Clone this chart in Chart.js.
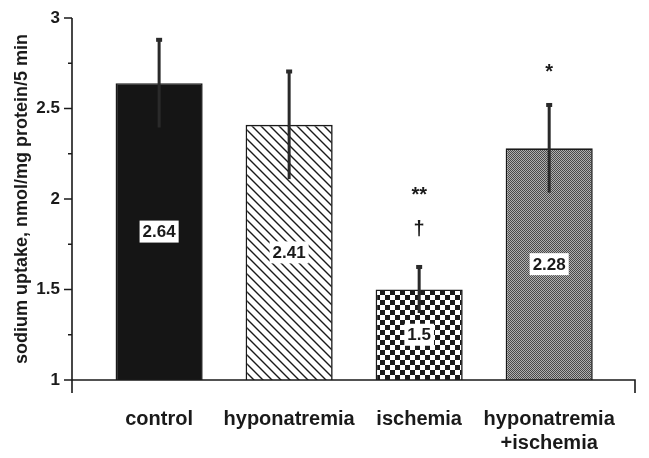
<!DOCTYPE html>
<html>
<head>
<meta charset="utf-8">
<script src="https://cdn.jsdelivr.net/npm/chart.js@4.4.0/dist/chart.umd.min.js"></script>
<style>
  body { margin: 0; background: #fff; }
  #wrap { width: 649px; height: 458px; }
</style>
</head>
<body>
<div id="wrap"><canvas id="chart" width="649" height="458"></canvas></div>
<script>
// values
const categories = ['control', 'hyponatremia', 'ischemia', ['hyponatremia', '+ischemia']];
const means = [2.64, 2.41, 1.5, 2.28];
const errors = [0.245, 0.30, 0.13, 0.245];
const valueLabels = ['2.64', '2.41', '1.5', '2.28'];
const marks = [[], [], ['†', '**'], ['*']];   // bottom to top
const yTicks = [1, 1.5, 2, 2.5, 3];

const FONT = "'Liberation Sans', Arial, Helvetica, sans-serif";
const INK = '#1a1a1a';

function tile(size, draw) {
    const c = document.createElement('canvas');
    c.width = size; c.height = size;
    const g = c.getContext('2d');
    draw(g, size);
    return document.getElementById('chart').getContext('2d').createPattern(c, 'repeat');
}

const hatch = tile(9, (g, s) => {
    g.fillStyle = '#fff';
    g.fillRect(0, 0, s, s);
    g.strokeStyle = INK;
    g.lineWidth = 1.4;
    g.beginPath();
    g.moveTo(-1, -1); g.lineTo(s + 1, s + 1);
    g.moveTo(-1, s - 1); g.lineTo(1, s + 1);
    g.moveTo(s - 1, -1); g.lineTo(s + 1, 1);
    g.stroke();
});

const checker = tile(10, (g, s) => {
    g.fillStyle = '#fff';
    g.fillRect(0, 0, s, s);
    g.fillStyle = INK;
    g.fillRect(0, 0, s / 2, s / 2);
    g.fillRect(s / 2, s / 2, s / 2, s / 2);
});

const stipple = tile(2, (g) => {
    g.fillStyle = '#b0b0b0';
    g.fillRect(0, 0, 2, 2);
    g.fillStyle = '#4a4a4a';
    g.fillRect(0, 0, 1, 1);
    g.fillRect(1, 1, 1, 1);
});

const fills = ['#151515', hatch, checker, stipple];

// axes, ticks, error bars, value boxes and significance marks
const extras = {
    id: 'extras',
    afterDatasetsDraw(chart) {
        const { ctx, chartArea: area, scales: { x, y } } = chart;
        ctx.save();
        ctx.strokeStyle = INK;
        ctx.lineWidth = 1.6;
        ctx.beginPath();
        ctx.moveTo(area.left, area.top);
        ctx.lineTo(area.left, area.bottom + 13);
        ctx.moveTo(area.left - 4, area.bottom);
        ctx.lineTo(area.right, area.bottom);
        ctx.lineTo(area.right, area.bottom + 13);
        y.ticks.forEach(t => {
            const py = y.getPixelForValue(t.value);
            const len = yTicks.includes(t.value) ? 8 : 4;
            ctx.moveTo(area.left - len, py);
            ctx.lineTo(area.left, py);
        });
        ctx.stroke();

        means.forEach((m, i) => {
            const px = x.getPixelForValue(i);
            const top = y.getPixelForValue(m + errors[i]);
            const bot = y.getPixelForValue(m - errors[i]);
            ctx.fillStyle = '#2a2a2a';
            ctx.fillRect(px - 1.5, top, 3, bot - top);
            ctx.fillRect(px - 3, top - 1, 6, 4);

            const mid = (y.getPixelForValue(m) + y.getPixelForValue(y.min)) / 2;
            ctx.font = 'bold 17px ' + FONT;
            ctx.textAlign = 'center';
            ctx.textBaseline = 'middle';
            const w = ctx.measureText(valueLabels[i]).width;
            ctx.fillStyle = '#fff';
            ctx.fillRect(px - w / 2 - 3, mid - 11, w + 6, 22);
            ctx.fillStyle = INK;
            ctx.fillText(valueLabels[i], px, mid + 1);

            ctx.font = 'bold 20px ' + FONT;
            marks[i].forEach((s, k) => {
                ctx.fillText(s, px, top - 36 - k * 39 + (s.startsWith('*') ? 5 : 0));
            });
        });
        ctx.restore();
    }
};

new Chart(document.getElementById('chart'), {
    type: 'bar',
    data: {
        datasets: [{
            data: means.map((m, i) => ({ x: i, y: m })),
            backgroundColor: fills,
            borderColor: INK,
            borderWidth: 1.6,
            barPercentage: 0.67,
            categoryPercentage: 1,
        }],
    },
    options: {
        responsive: false,
        animation: false,
        layout: { padding: { top: 18, right: 14, left: 0, bottom: 0 } },
        plugins: { legend: { display: false }, tooltip: { enabled: false } },
        scales: {
            x: {
                type: 'linear',
                offset: false,
                min: -0.67,
                max: 3.66,
                grid: { display: false, drawTicks: false },
                border: { display: false },
                afterBuildTicks: (s) => { s.ticks = categories.map((c, i) => ({ value: i })); },
                afterFit: (s) => { s.height = 78; s.paddingLeft = 0; s.paddingRight = 0; },
                ticks: {
                    autoSkip: false,
                    maxRotation: 0,
                    padding: 27,
                    color: INK,
                    font: { family: FONT, size: 20, weight: 'bold', lineHeight: 1.2 },
                    callback: (v) => categories[v],
                },
            },
            y: {
                min: 1,
                max: 3,
                grid: { display: false, drawTicks: false },
                border: { display: false },
                afterFit: (s) => { s.width = 72; s.paddingTop = 0; s.paddingBottom = 0; },
                ticks: {
                    stepSize: 0.25,
                    padding: 12,
                    color: INK,
                    font: { family: FONT, size: 17, weight: 'bold' },
                    callback: (v) => (yTicks.includes(v) ? String(v) : ''),
                },
                title: {
                    display: true,
                    text: 'sodium uptake, nmol/mg protein/5 min',
                    color: INK,
                    font: { family: FONT, size: 18, weight: 'bold' },
                    padding: { top: 11, bottom: 0 },
                },
            },
        },
    },
    plugins: [extras],
});
</script>
</body>
</html>
